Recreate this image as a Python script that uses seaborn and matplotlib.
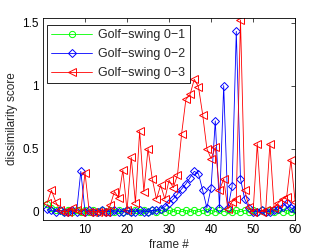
import numpy as np
import pandas as pd
import matplotlib
matplotlib.use("Agg")
import matplotlib.pyplot as plt
import seaborn as sns

frames = list(range(1, 61))

golf_0_1 = [0.06, 0.03, 0.01, 0.01, 0.00, 0.01, 0.00, 0.01, 0.00, 0.01,
            0.00, 0.01, 0.00, 0.01, 0.00, 0.01, 0.00, 0.01, 0.00, 0.01,
            0.00, 0.01, 0.00, 0.01, 0.00, 0.01, 0.00, 0.01, 0.00, 0.01,
            0.00, 0.01, 0.00, 0.01, 0.00, 0.01, 0.00, 0.01, 0.00, 0.01,
            0.00, 0.01, 0.00, 0.01, 0.00, 0.01, 0.00, 0.01, 0.00, 0.01,
            0.00, 0.01, 0.00, 0.01, 0.00, 0.01, 0.00, 0.01, 0.00, 0.01]

golf_0_2 = [0.02, 0.01, 0.00, 0.01, 0.00, 0.00, 0.01, 0.00, 0.32, 0.00,
            0.01, 0.00, 0.00, 0.01, 0.00, 0.00, 0.01, 0.00, 0.00, 0.01,
            0.00, 0.00, 0.01, 0.00, 0.00, 0.01, 0.01, 0.02, 0.04, 0.07,
            0.10, 0.14, 0.18, 0.22, 0.27, 0.32, 0.30, 0.17, 0.03, 0.19,
            0.72, 0.03, 1.00, 0.03, 0.20, 1.43, 0.26, 0.10, 0.03, 0.00,
            0.00, 0.01, 0.00, 0.00, 0.01, 0.02, 0.04, 0.07, 0.03, 0.02]

golf_0_3 = [0.07, 0.17, 0.08, 0.01, 0.00, 0.00, 0.03, 0.01, 0.00, 0.31,
            0.00, 0.00, 0.00, 0.00, 0.00, 0.05, 0.16, 0.11, 0.33, 0.01,
            0.43, 0.07, 0.64, 0.16, 0.50, 0.26, 0.10, 0.21, 0.10, 0.25,
            0.19, 0.29, 0.62, 0.89, 0.93, 1.05, 0.99, 0.77, 0.50, 0.42,
            0.51, 0.17, 0.26, 0.02, 0.08, 0.10, 1.52, 0.17, 0.04, 0.00,
            0.54, 0.00, 0.01, 0.54, 0.03, 0.07, 0.10, 0.12, 0.41, 0.08]

series_names = ["Golf\u2212swing 0\u22121", "Golf\u2212swing 0\u22122", "Golf\u2212swing 0\u22123"]
series_values = [golf_0_1, golf_0_2, golf_0_3]
series_colors = ["#00ff00", "#0000ff", "#ff0000"]
series_markers = ["o", "D", "<"]
series_msize = [4.5, 4.0, 5.5]

x_ticks = [10, 20, 30, 40, 50, 60]
y_ticks = [0, 0.5, 1, 1.5]
y_ticklabels = ["0", "0.5", "1", "1.5"]

sns.set_style("white")
plt.rcParams["font.family"] = ["Liberation Sans", "DejaVu Sans"]
plt.rcParams["xtick.direction"] = "in"
plt.rcParams["ytick.direction"] = "in"

fig = plt.figure(figsize=(3.27, 2.52), dpi=100)
ax = fig.add_axes([0.1315, 0.127, 0.771, 0.802])

for name, vals, col, mk, ms in zip(series_names, series_values, series_colors,
                                    series_markers, series_msize):
    df = pd.DataFrame({"frame": frames, "score": vals})
    sns.lineplot(data=df, x="frame", y="score", ax=ax, color=col, marker=mk,
                 markersize=ms, markerfacecolor="none", markeredgecolor=col,
                 markeredgewidth=0.7, linewidth=0.6, label=name)

ax.set_xlim(0, 60)
ax.set_ylim(-0.066, 1.537)
ax.set_xticks(x_ticks)
ax.set_yticks(y_ticks)
ax.set_yticklabels(y_ticklabels)
ax.tick_params(axis="both", which="both", direction="in", length=3, width=0.5,
               top=True, right=True, labelsize=8.5, pad=3, colors="black")
for sp in ax.spines.values():
    sp.set_visible(True)
    sp.set_color("black")
    sp.set_linewidth(0.6)

ax.set_xlabel("frame #", fontsize=8.5, labelpad=2)
ax.set_ylabel("dissimilarity score", fontsize=8.5, labelpad=3)

leg = ax.legend(loc="upper left", bbox_to_anchor=(0.014, 0.966), fontsize=9,
                frameon=True, fancybox=False, edgecolor="black", framealpha=1,
                borderpad=0.35, handlelength=3.3, handletextpad=0.5,
                labelspacing=0.55, borderaxespad=0.0)
leg.get_frame().set_linewidth(0.6)

fig.savefig("out.png", dpi=100)
